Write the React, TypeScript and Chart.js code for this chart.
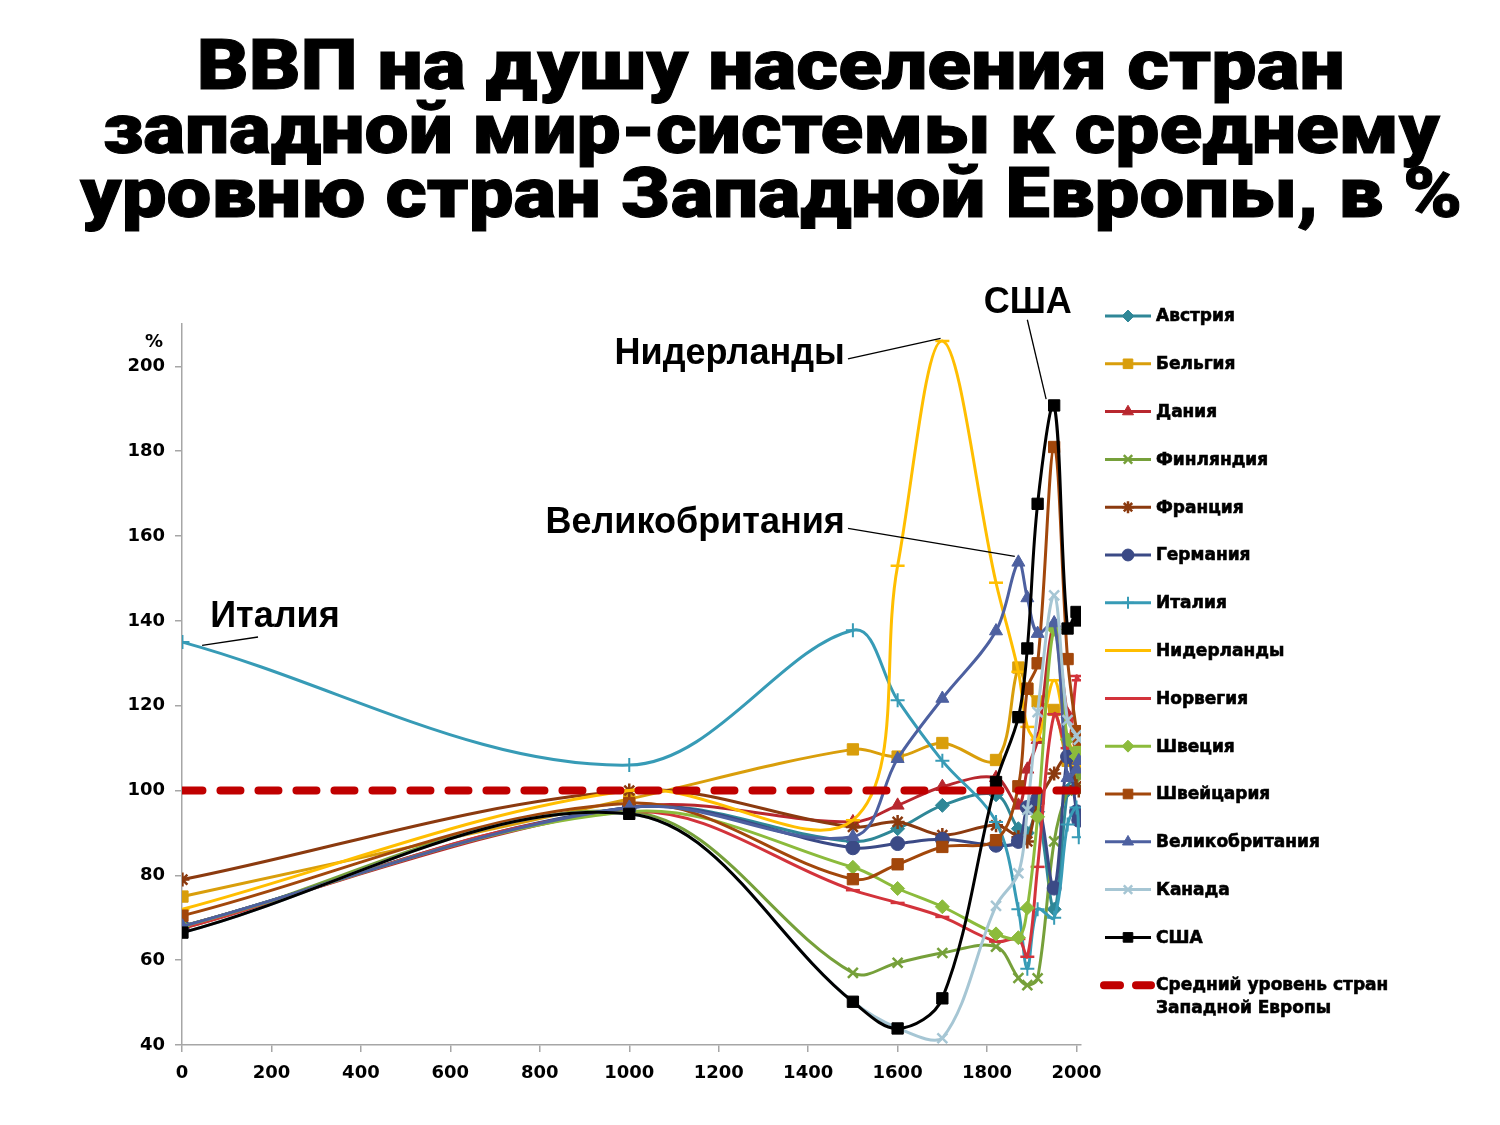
import React, { useEffect, useLayoutEffect, useRef } from "react";
import { Chart, registerables } from "chart.js";
import { drawPoint } from "chart.js/helpers";

Chart.register(...registerables);

// ---------- text ----------
const titleLines = [
  "ВВП на душу населения стран",
  "западной мир-системы к среднему",
  "уровню стран Западной Европы, в %",
];

// ---------- data ----------
const years = [1, 1000, 1500, 1600, 1700, 1820, 1870, 1890, 1913, 1950, 1980, 2000, 2005];

const austria = [68, 96, 88, 91, 96.5, 99, 91, 90, 95, 72, 100, 106, 108];
const belgium = [75, 98, 109.7, 108, 111.2, 107.2, 129, 124, 121, 119, 107, 106, 104];
const denmark = [68, 96, 92.6, 96.5, 100.9, 103, 96.5, 105, 112, 139, 118, 113, 110];
const finland = [67.5, 95, 57, 59.4, 61.7, 63.2, 55.8, 54.1, 55.7, 88, 100, 102, 104];
const france = [79, 100, 91.4, 92.6, 89.5, 91.8, 89, 88, 97, 104, 108, 101, 100];
const germany = [68, 96, 86.5, 87.5, 88.5, 87.1, 88, 96, 98, 77, 108, 95, 93];
const italy = [135, 106, 137.8, 121.3, 107, 92.6, 72, 58, 72, 70, 92, 96, 89];
const netherlands = [72, 100, 93, 153, 206, 149, 128, 115, 112, 126, 112, 108, 106];
const norway = [67.5, 95, 76.5, 73.5, 70.2, 64.4, 65, 60.8, 82, 118, 110, 127, 126];
const sweden = [68, 95, 81.9, 76.9, 72.6, 66.2, 65.3, 72.3, 93.8, 138, 112, 108, 110];
const switzerland = [70.5, 97, 79.1, 82.6, 86.7, 88.3, 101, 124, 130, 181, 131, 114, 112];
const uk = [68, 96, 89.1, 107.5, 121.7, 137.6, 153.8, 145.4, 137, 139.5, 103, 105, 107];
const canada = [66.5, 94.5, 50.2, 44, 41.6, 72.8, 80.5, 95.4, 118.5, 146, 116.6, 113, 112];
const usa = [66.5, 94.5, 50.2, 43.9, 51, 102, 117.3, 133.5, 167.6, 190.8, 138.2, 142.1, 140.1];

const averageYears = [1, 2005];
const averageLevel = [100, 100];
const averageLabel = ["Средний уровень стран", "Западной Европы"];

const xTickValues = [0, 200, 400, 600, 800, 1000, 1200, 1400, 1600, 1800, 2000];
const yTickValues = [40, 60, 80, 100, 120, 140, 160, 180, 200];
const xMin = 0;
const xMax = 2010;
const yMin = 40;
const yMax = 210;

// ---------- styles ----------
type Series = { name: string; values: number[]; color: string; style: string; r: number; bw: number };
const series: Series[] = [
  { name: "Австрия", values: austria, color: "#2F8797", style: "rectRot", r: 7, bw: 1 },
  { name: "Бельгия", values: belgium, color: "#D99E0B", style: "rect", r: 8, bw: 1 },
  { name: "Дания", values: denmark, color: "#B8272E", style: "triangle", r: 7.5, bw: 1 },
  { name: "Финляндия", values: finland, color: "#76A03A", style: "crossRot", r: 7, bw: 2.5 },
  { name: "Франция", values: france, color: "#8B3A0F", style: "star", r: 7, bw: 2.5 },
  { name: "Германия", values: germany, color: "#3B4A86", style: "circle", r: 7, bw: 1 },
  { name: "Италия", values: italy, color: "#379BB6", style: "cross", r: 7, bw: 2 },
  { name: "Нидерланды", values: netherlands, color: "#FFBE00", style: "line", r: 7, bw: 2.5 },
  { name: "Норвегия", values: norway, color: "#D3333B", style: "line", r: 7, bw: 2.5 },
  { name: "Швеция", values: sweden, color: "#8CBB3C", style: "rectRot", r: 7, bw: 1 },
  { name: "Швейцария", values: switzerland, color: "#A2470B", style: "rect", r: 8, bw: 1 },
  { name: "Великобритания", values: uk, color: "#4D60A0", style: "triangle", r: 7.5, bw: 1 },
  { name: "Канада", values: canada, color: "#A6C6D4", style: "crossRot", r: 7, bw: 2.5 },
  { name: "США", values: usa, color: "#000000", style: "rect", r: 8, bw: 1 },
];
const AVG_COLOR = "#C00000";

type Note = { text: string; at: [number, number]; align: CanvasTextAlign; line: [number, number][] };
const notes: Note[] = [
  { text: "США", at: [1891, 215], align: "center", line: [[1890, 211], [1932, 192.3]] },
  { text: "Нидерланды", at: [1482, 203], align: "right", line: [[1489, 201.8], [1696, 206.6]] },
  { text: "Великобритания", at: [1482, 163], align: "right", line: [[1489, 161.8], [1862, 155.2]] },
  { text: "Италия", at: [63, 140.8], align: "left", line: [[45, 134.2], [170, 136.2]] },
];

const HEAVY = '"DejaVu Sans"';
const NOTE_FONT = 'bold 36px "Liberation Sans", Arial, sans-serif';

const overlayPlugin = {
  id: "overlay",
  afterDraw(chart: any) {
    const ctx: CanvasRenderingContext2D = chart.ctx;
    const xs = chart.scales.x;
    const ys = chart.scales.y;
    ctx.save();
    // % label
    ctx.font = `bold 18px ${HEAVY}`;
    ctx.fillStyle = "#000";
    ctx.textAlign = "right";
    ctx.textBaseline = "middle";
    ctx.fillText("%", ys.right - 19, ys.getPixelForValue(yMax) + 18);

    // annotations
    ctx.font = NOTE_FONT;
    for (const n of notes) {
      ctx.textAlign = n.align;
      ctx.fillStyle = "#000";
      ctx.fillText(n.text, xs.getPixelForValue(n.at[0]), ys.getPixelForValue(n.at[1]));
      ctx.beginPath();
      ctx.strokeStyle = "#000";
      ctx.lineWidth = 1.3;
      n.line.forEach((p, k) => {
        const px = xs.getPixelForValue(p[0]);
        const py = ys.getPixelForValue(p[1]);
        if (k === 0) ctx.moveTo(px, py);
        else ctx.lineTo(px, py);
      });
      ctx.stroke();
    }

    // legend
    const LX = 1105;
    const LW = 46;
    const TX = 1156;
    const TOP = 316;
    const STEP = 47.8;
    ctx.font = `bold 17px ${HEAVY}`;
    ctx.textAlign = "left";
    ctx.textBaseline = "middle";
    chart.data.datasets.forEach((ds: any, i: number) => {
      const y = TOP + i * STEP;
      ctx.save();
      if (ds.isAverage) {
        ctx.strokeStyle = AVG_COLOR;
        ctx.lineWidth = 8;
        ctx.lineCap = "round";
        ctx.beginPath();
        ctx.moveTo(LX - 1, y);
        ctx.lineTo(LX + 15, y);
        ctx.moveTo(LX + 31, y);
        ctx.lineTo(LX + LW, y);
        ctx.stroke();
        ctx.restore();
        ctx.fillStyle = "#000";
        ctx.strokeStyle = "#000";
        ctx.lineWidth = 0.6;
        ds.legendLines.forEach((t: string, k: number) => {
          ctx.fillText(t, TX, y + k * 23);
          ctx.strokeText(t, TX, y + k * 23);
        });
        return;
      }
      ctx.strokeStyle = ds.borderColor;
      ctx.lineWidth = 3;
      ctx.beginPath();
      ctx.moveTo(LX, y);
      ctx.lineTo(LX + LW, y);
      ctx.stroke();
      ctx.fillStyle = ds.borderColor;
      ctx.strokeStyle = ds.borderColor;
      ctx.lineWidth = ds.pointBorderWidth;
      drawPoint(ctx, { pointStyle: ds.pointStyle, radius: ds.pointRadius * 0.85, rotation: 0, borderWidth: ds.pointBorderWidth } as any, LX + LW / 2, y);
      ctx.restore();
      ctx.fillStyle = "#000";
      ctx.strokeStyle = "#000";
      ctx.lineWidth = 0.6;
      ctx.fillText(ds.label, TX, y + 1);
      ctx.strokeText(ds.label, TX, y + 1);
    });
    ctx.restore();
  },
};

function TitleLine({ text, top, target }: { text: string; top: number; target: number }) {
  const ref = useRef<HTMLSpanElement>(null);
  useLayoutEffect(() => {
    const el = ref.current;
    if (!el) return;
    el.style.transform = "none";
    const w = el.getBoundingClientRect().width;
    if (w > 0) el.style.transform = `scaleX(${target / w})`;
  }, [text, target]);
  return (
    <div
      style={{
        position: "absolute",
        left: 0,
        top,
        width: 1542,
        textAlign: "center",
        fontFamily: 'Roboto, "DejaVu Sans", sans-serif',
        fontWeight: 900,
        fontSize: 70,
        lineHeight: "64px",
        color: "#000",
        whiteSpace: "nowrap",
      }}
    >
      <span ref={ref} style={{ display: "inline-block", transformOrigin: "center", WebkitTextStroke: "1px #000" }}>
        {text}
      </span>
    </div>
  );
}

const titleWidths = [1148, 1337, 1382];
const titleTops = [33, 97, 161];

export default function App() {
  const canvasRef = useRef<HTMLCanvasElement>(null);

  useLayoutEffect(() => {
    document.body.style.margin = "0";
    document.body.style.overflow = "hidden";
  }, []);

  useEffect(() => {
    const canvas = canvasRef.current;
    if (!canvas) return;
    const datasets: any[] = series.map((s, i) => ({
      label: s.name,
      data: years.map((x, j) => ({ x, y: s.values[j] })),
      borderColor: s.color,
      backgroundColor: s.color,
      pointBackgroundColor: s.color,
      pointBorderColor: s.color,
      pointStyle: s.style,
      pointRadius: s.r,
      pointBorderWidth: s.bw,
      borderWidth: 3,
      tension: 0.35,
      fill: false,
      order: 100 - i,
    }));
    datasets.push({
      label: averageLabel.join(" "),
      legendLines: averageLabel,
      isAverage: true,
      data: averageYears.map((x, j) => ({ x, y: averageLevel[j] })),
      borderColor: AVG_COLOR,
      backgroundColor: AVG_COLOR,
      borderWidth: 8,
      borderDash: [20, 18],
      borderCapStyle: "round",
      pointRadius: 0,
      tension: 0,
      fill: false,
      order: 0,
    });

    const tickFont = { family: "DejaVu Sans", weight: "bold" as any, size: 18 };
    const chart = new Chart(canvas, {
      type: "line",
      data: { datasets },
      options: {
        responsive: false,
        animation: false,
        devicePixelRatio: 1,
        layout: { padding: { left: 100, right: 419, top: 324, bottom: 40 } },
        plugins: { legend: { display: false }, tooltip: { enabled: false } },
        scales: {
          x: {
            type: "linear",
            min: xMin,
            max: xMax,
            afterBuildTicks: (s: any) => {
              s.ticks = xTickValues.map((v) => ({ value: v }));
            },
            afterFit: (s: any) => {
              s.height = 40;
            },
            ticks: { color: "#000", font: tickFont, padding: 11, maxRotation: 0, autoSkip: false, callback: (v: any) => String(v) },
            grid: { drawOnChartArea: false, drawTicks: true, tickLength: 7, color: "#A6A6A6", lineWidth: 1.5 },
            border: { color: "#A6A6A6", width: 1.5 },
          },
          y: {
            type: "linear",
            min: yMin,
            max: yMax,
            afterBuildTicks: (s: any) => {
              s.ticks = yTickValues.map((v) => ({ value: v }));
            },
            afterFit: (s: any) => {
              s.width = 82;
            },
            ticks: { color: "#000", font: tickFont, padding: 10, autoSkip: false, callback: (v: any) => String(v) },
            grid: { drawOnChartArea: false, drawTicks: true, tickLength: 7, color: "#A6A6A6", lineWidth: 1.5 },
            border: { color: "#A6A6A6", width: 1.5 },
          },
        },
      } as any,
      plugins: [overlayPlugin],
    });
    return () => chart.destroy();
  }, []);

  return (
    <div style={{ position: "relative", width: 1500, height: 1125, overflow: "hidden", background: "#fff" }}>
      {titleLines.map((t, i) => (
        <TitleLine key={i} text={t} top={titleTops[i]} target={titleWidths[i]} />
      ))}
      <canvas
        ref={canvasRef}
        width={1500}
        height={1125}
        style={{ position: "absolute", left: 0, top: 0, width: 1500, height: 1125 }}
      />
    </div>
  );
}
